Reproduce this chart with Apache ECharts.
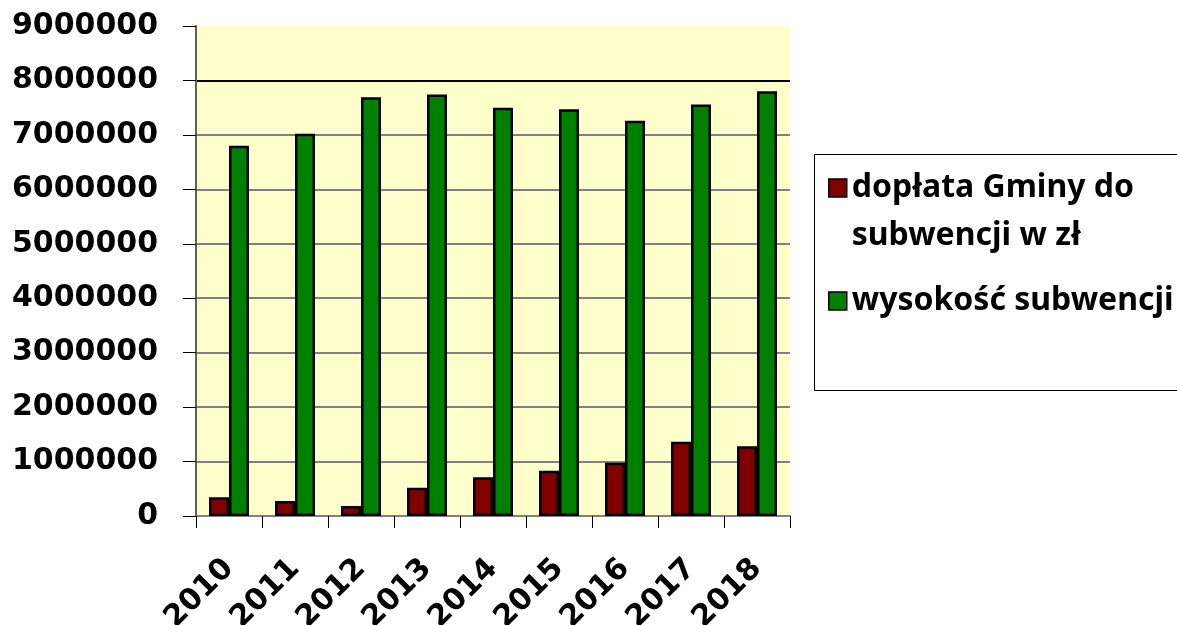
<!DOCTYPE html>
<html><head><meta charset="utf-8">
<script src="https://cdn.jsdelivr.net/npm/echarts@6/dist/echarts.min.js"></script>
<style>html,body{margin:0;padding:0;background:#fff}#c{width:1177px;height:625px}</style>
</head><body><div id="c"></div>
<script>
const years = ['2010','2011','2012','2013','2014','2015','2016','2017','2018'];
const seriesNames = ['dopłata Gminy do\nsubwencji w zł', 'wysokość subwencji'];
const doplata = [345000, 277000, 185000, 520000, 710000, 830000, 980000, 1365000, 1280000];
const subwencja = [6800000, 7020000, 7690000, 7740000, 7500000, 7470000, 7260000, 7560000, 7800000];
const yMin = 0, yMax = 9000000, yStep = 1000000;

const chart = echarts.init(document.getElementById('c'), null, {renderer:'canvas'});
const gridColors = ['#808080','#808080','#808080','#808080','#808080','#808080','#808080','#808080','#000000','rgba(0,0,0,0)'];
const legendText = {fontFamily:'Noto Sans', fontWeight:'bold', fontSize:32, color:'#000'};
chart.setOption({
  animation:false,
  backgroundColor:'#ffffff',
  grid:{left:196, right:387, top:26, bottom:109, show:true, backgroundColor:'#FFFFCC', borderWidth:0, containLabel:false, outerBoundsMode:'none'},
  graphic:[{type:'rect', left:812, top:152, shape:{width:420, height:236}, style:{fill:'none', stroke:'#000', lineWidth:1}, z:-1}],
  legend:[
    {data:[seriesNames[0]], orient:'vertical', left:828, top:116, padding:0, itemWidth:18, itemHeight:18, icon:'rect',
     itemStyle:{borderColor:'#000', borderWidth:1.5},
     formatter: n => ' \n' + n,
     textStyle:Object.assign({lineHeight:48}, legendText)},
    {data:[seriesNames[1]], orient:'vertical', left:828, top:279, padding:0, itemWidth:18, itemHeight:18, icon:'rect',
     itemStyle:{borderColor:'#000', borderWidth:1.5},
     textStyle:Object.assign({lineHeight:44}, legendText)}
  ],
  xAxis:{type:'category', data:years,
    axisLine:{lineStyle:{color:'#808080', width:2}},
    axisTick:{show:true, length:12, inside:false, lineStyle:{color:'#000', width:1}},
    axisLabel:{rotate:45, margin:48, fontFamily:'DejaVu Sans', fontWeight:'bold', fontSize:30, color:'#000'}},
  yAxis:{type:'value', min:yMin, max:yMax, interval:yStep,
    axisLine:{show:true, lineStyle:{color:'#606060', width:2}},
    axisTick:{show:true, length:13, lineStyle:{color:'#000'}},
    splitLine:{show:true, lineStyle:{color:gridColors, width:2}},
    axisLabel:{margin:38, formatter: v => String(v), fontFamily:'DejaVu Sans', fontWeight:'bold', fontSize:30, color:'#000'}},
  series:[
    {name:seriesNames[0], type:'bar', data:doplata, barWidth:20, barGap:'0%',
     itemStyle:{color:'#800000', borderColor:'#000', borderWidth:2.5}},
    {name:seriesNames[1], type:'bar', data:subwencja, barWidth:20, barGap:'0%',
     itemStyle:{color:'#008000', borderColor:'#000', borderWidth:2.5}}
  ]
});
</script></body></html>
